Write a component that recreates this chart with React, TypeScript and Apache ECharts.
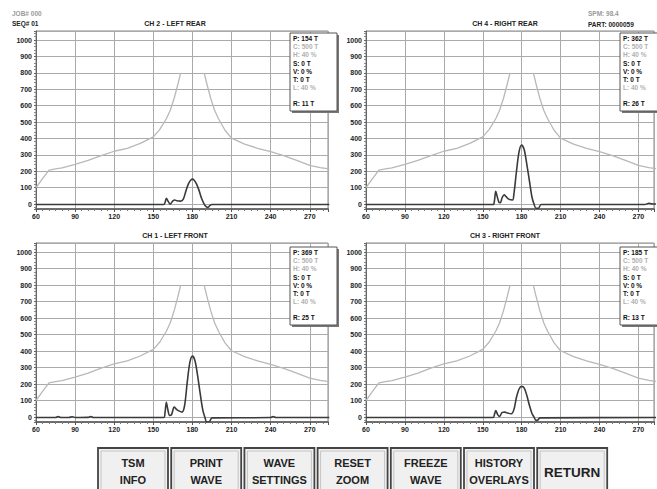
import React, { useEffect, useRef } from "react";
import * as echarts from "echarts";

// ---------- DATA ----------
const TITLES = ["CH 2 - LEFT REAR", "CH 4 - RIGHT REAR", "CH 1 - LEFT FRONT", "CH 3 - RIGHT FRONT"];
const PEAKS = ["154", "362", "369", "185"];
const REVERSE = ["11", "26", "25", "13"];
const BOX_LINES = [
  { key: "P", val: "" },
  { key: "C", val: "500 T" },
  { key: "H", val: "40 %" },
  { key: "S", val: "0 T" },
  { key: "V", val: "0 %" },
  { key: "T", val: "0 T" },
  { key: "L", val: "40 %" },
];
const GRAY_KEYS = ["C", "H", "L"];
const BUTTONS = [
  ["TSM", "INFO"],
  ["PRINT", "WAVE"],
  ["WAVE", "SETTINGS"],
  ["RESET", "ZOOM"],
  ["FREEZE", "WAVE"],
  ["HISTORY", "OVERLAYS"],
  ["RETURN"],
];
const HEADER = { job: "JOB# 000", seq: "SEQ# 01", spm: "SPM: 98.4", part: "PART: 0000059" };

const Y_MIN = -30;
const Y_MAX = 1055;
const X_MIN = 60;
const X_MAX = [284, 282, 284, 282];

// tonnage limit envelope (same for all channels)
const ENVELOPE: (number | string)[][] = [
  [60, 100], [65, 155], [70, 207], [75, 215], [80, 221], [90, 242], [100, 266], [110, 296],
  [120, 322], [130, 340], [140, 370], [150, 410], [155, 455], [160, 520], [163, 572],
  [166, 645], [169, 735], [171, 800], [180, "-"], [189, 800], [191, 735], [194, 645],
  [197, 572], [200, 520], [205, 450], [210, 402], [220, 366], [230, 340], [240, 320],
  [250, 295], [260, 266], [270, 236], [278, 222], [285, 215],
];

const WAVE_CH2: number[][] = [
  [60, -3], [158, -3], [159, 10], [160, 35], [161.5, 15], [163, 0], [165, 20], [166.5, 25],
  [168, 20], [171, 18], [173, 30], [175, 80], [177, 125], [179, 148], [180, 152], [181, 148],
  [183, 125], [185, 85], [187, 35], [189, 0], [190.5, -15], [192, -20], [193.5, -8], [195, -3], [285, -3],
];
const WAVE_CH4: number[][] = [
  [60, -3], [158, -3], [159, 20], [160, 78], [161, 50], [162.5, 10], [163.5, 8], [165, 40],
  [166.5, 57], [168, 45], [170, 30], [173, 25], [174, 60], [176, 200], [178, 320], [180, 360],
  [182, 330], [184, 240], [186, 140], [188, 40], [189.5, 0], [191, -25], [193, -25], [195, -3],
  [275, -3], [278, 5], [280, 2], [285, 0],
];
const WAVE_CH1: number[][] = [
  [60, -3], [75, -3], [77, 3], [79, -3], [85, -3], [88, 2], [90, -3], [100, -2], [102, 3], [104, -3],
  [158, -3], [159, 30], [160, 90], [161, 50], [162.5, 10], [164, 15], [166, 60], [168, 45],
  [170, 36], [172, 30], [174, 70], [176, 210], [178, 330], [180, 369], [182, 340], [184, 250],
  [186, 140], [188, 40], [189.5, 0], [191, -30], [193, -28], [195, -5], [240, -3], [242, 3],
  [244, -3], [285, -3],
];
const WAVE_CH3: number[][] = [
  [60, -3], [158, -3], [159, 15], [160, 40], [161.5, 15], [163, 4], [165, 28], [167, 30],
  [169, 24], [172, 20], [174, 45], [176, 120], [178, 170], [180, 186], [182, 175], [184, 130],
  [186, 70], [188, 20], [189.5, 0], [191, -20], [192.5, -18], [194, -5], [285, -3],
];
const WAVES = [WAVE_CH2, WAVE_CH4, WAVE_CH1, WAVE_CH3];

// ---------- LAYOUT ----------
const GRIDS = [
  { left: 36, top: 31, width: 292, height: 178 },
  { left: 366, top: 31, width: 290, height: 178 },
  { left: 36, top: 243, width: 292, height: 179 },
  { left: 366, top: 243, width: 290, height: 179 },
];
const FONT = '"Liberation Sans", Arial, sans-serif';
const TOP_Z = 100;

export default function App() {
  const ref = useRef<HTMLDivElement>(null);

  useEffect(() => {
    if (!ref.current) return;
    const chart = echarts.init(ref.current, undefined, { renderer: "svg" });

    const axisText = { fontSize: 7, fontWeight: "bold" as const, color: "#222", fontFamily: FONT };

    const xAxis = GRIDS.map((_, i) => ({
      type: "value",
      gridIndex: i,
      min: X_MIN,
      max: X_MAX[i],
      interval: 30,
      axisLine: { show: true, onZero: false, lineStyle: { color: "#555", width: 1.5 } },
      axisTick: { show: true, length: 3, lineStyle: { color: "#555" } },
      minorTick: { show: true, splitNumber: 6, length: 2, lineStyle: { color: "#777" } },
      splitLine: { show: true, lineStyle: { color: "#aaa", width: 1 } },
      axisLabel: {
        ...axisText,
        margin: 4,
        formatter: (v: number) => (v % 30 === 0 && v <= 270 ? String(v) : ""),
      },
    }));

    const yAxis = GRIDS.map((_, i) => ({
      type: "value",
      gridIndex: i,
      min: Y_MIN,
      max: Y_MAX,
      splitNumber: 10,
      axisLine: { show: true, onZero: false, lineStyle: { color: "#666", width: 1 } },
      axisTick: { show: true, length: 2, lineStyle: { color: "#666" } },
      minorTick: { show: true, splitNumber: 5, length: 2, lineStyle: { color: "#888" } },
      splitLine: { show: true, lineStyle: { color: "#aaa", width: 1 } },
      axisLabel: {
        ...axisText,
        margin: 4,
        formatter: (v: number) => (Math.abs(v % 100) < 1e-6 && v >= 0 && v <= 1000 ? String(Math.round(v)) : ""),
      },
    }));

    const series: any[] = [];
    GRIDS.forEach((_, i) => {
      series.push({
        type: "line",
        xAxisIndex: i,
        yAxisIndex: i,
        data: ENVELOPE,
        showSymbol: false,
        symbol: "none",
        connectNulls: false,
        lineStyle: { color: "#b8b8b8", width: 1.3 },
        z: 3,
      });
      series.push({
        type: "line",
        xAxisIndex: i,
        yAxisIndex: i,
        data: WAVES[i],
        showSymbol: false,
        symbol: "none",
        smooth: 0.3,
        lineStyle: { color: "#3a3a3a", width: 1.6 },
        z: 4,
      });
    });

    const graphic: any[] = [];
    // header texts
    const hdr = (text: string, x: number, y: number, fill: string) => ({
      type: "text",
      z: TOP_Z,
      style: { text, x, y, fill, font: `bold 6.5px ${FONT}`, textVerticalAlign: "middle" },
    });
    graphic.push(hdr(HEADER.job, 12, 13, "#9a9a9a"));
    graphic.push(hdr(HEADER.seq, 12, 23, "#222"));
    graphic.push(hdr(HEADER.spm, 588, 13, "#9a9a9a"));
    graphic.push(hdr(HEADER.part, 588, 24, "#222"));

    // chart titles
    const titlePos = [
      [175, 23],
      [505, 23],
      [175, 235],
      [505, 235],
    ];
    TITLES.forEach((t, i) => {
      graphic.push({
        type: "text",
        z: TOP_Z,
        style: {
          text: t,
          x: titlePos[i][0],
          y: titlePos[i][1],
          fill: "#222",
          font: `bold 7px ${FONT}`,
          textAlign: "center",
          textVerticalAlign: "middle",
        },
      });
    });

    // info boxes
    const boxPos = [
      [290, 33],
      [620, 33],
      [290, 247],
      [620, 247],
    ];
    boxPos.forEach(([bx, by], i) => {
      graphic.push({
        type: "rect",
        z: TOP_Z,
        shape: { x: bx + 2, y: by + 2, width: 47, height: 78 },
        style: { fill: "#777" },
      });
      graphic.push({
        type: "rect",
        z: TOP_Z + 1,
        shape: { x: bx, y: by, width: 47, height: 78 },
        style: { fill: "#fff", stroke: "#555", lineWidth: 1 },
      });
      const lines = BOX_LINES.map((l) => ({
        key: l.key,
        text: l.key === "P" ? `P: ${PEAKS[i]} T` : `${l.key}: ${l.val}`,
      }));
      lines.forEach((l, k) => {
        graphic.push({
          type: "text",
          z: TOP_Z + 2,
          style: {
            text: l.text,
            x: bx + 3,
            y: by + 5.5 + k * 8.2,
            fill: GRAY_KEYS.includes(l.key) ? "#b0b0b0" : "#111",
            font: `bold 6.5px ${FONT}`,
            textVerticalAlign: "middle",
          },
        });
      });
      graphic.push({
        type: "text",
        z: TOP_Z + 2,
        style: {
          text: `R: ${REVERSE[i]} T`,
          x: bx + 3,
          y: by + 70,
          fill: "#111",
          font: `bold 6.5px ${FONT}`,
          textVerticalAlign: "middle",
        },
      });
    });

    // buttons
    BUTTONS.forEach((lines, i) => {
      const bx = 98 + i * 73.2;
      const by = 448;
      const w = 70;
      const cx = bx + w / 2;
      graphic.push({
        type: "rect",
        z: TOP_Z,
        shape: { x: bx, y: by, width: w, height: 48 },
        style: { fill: "#f0f0f0", stroke: "#444", lineWidth: 1.8 },
      });
      graphic.push({
        type: "rect",
        z: TOP_Z + 1,
        shape: { x: bx + 3, y: by + 3, width: w - 6, height: 42 },
        style: { fill: "none", stroke: "#c4c4c4", lineWidth: 1 },
      });
      if (lines.length === 1) {
        graphic.push({
          type: "text",
          z: TOP_Z + 2,
          style: { text: lines[0], x: cx, y: by + 24, fill: "#222", font: `bold 13.5px ${FONT}`, textAlign: "center", textVerticalAlign: "middle" },
        });
      } else {
        lines.forEach((t, k) => {
          graphic.push({
            type: "text",
            z: TOP_Z + 2,
            style: { text: t, x: cx, y: by + 15 + k * 17, fill: "#222", font: `bold 11px ${FONT}`, textAlign: "center", textVerticalAlign: "middle" },
          });
        });
      }
    });

    chart.setOption({
      animation: false,
      backgroundColor: "#fff",
      grid: GRIDS.map((g) => ({ ...g, show: true, borderColor: "#888", borderWidth: 1, containLabel: false })),
      xAxis,
      yAxis,
      series,
      graphic,
    });

    return () => chart.dispose();
  }, []);

  return (
    <div
      ref={ref}
      style={{ position: "fixed", left: 0, top: 0, width: 657, height: 489, background: "#fff" }}
    />
  );
}
